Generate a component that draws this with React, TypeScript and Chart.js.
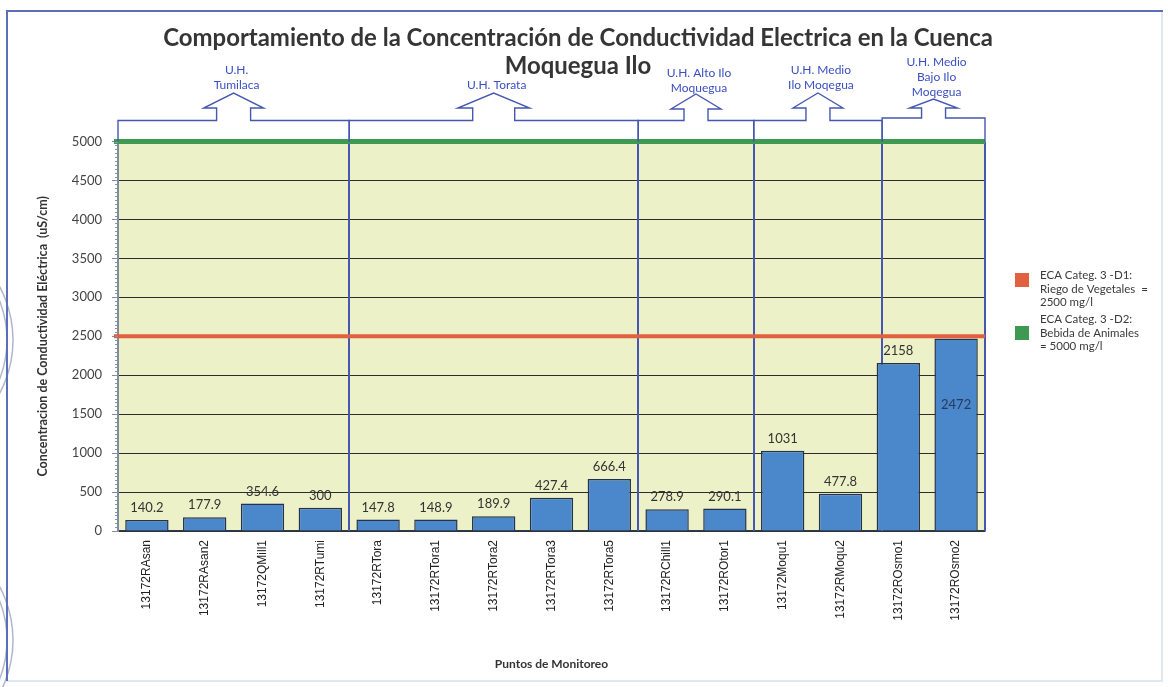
import React, { useEffect, useRef } from 'react';
import { Chart, registerables } from 'chart.js';

Chart.register(...registerables);

// ---------------- data ----------------
const categories = [
  '13172RAsan', '13172RAsan2', '13172QMill1', '13172RTumi', '13172RTora',
  '13172RTora1', '13172RTora2', '13172RTora3', '13172RTora5', '13172RChill1',
  '13172ROtor1', '13172Moqu1', '13172RMoqu2', '13172ROsmo1', '13172ROsmo2',
];
const conductivity = [140.2, 177.9, 354.6, 300, 147.8, 148.9, 189.9, 427.4, 666.4, 278.9, 290.1, 1031, 477.8, 2158, 2472];
const conductivityLabels = ['140.2', '177.9', '354.6', '300', '147.8', '148.9', '189.9', '427.4', '666.4', '278.9', '290.1', '1031', '477.8', '2158', '2472'];

const yMin = 0;
const yMax = 5000;
const yStep = 500;

const ecaValues = [2500, 5000];
const ecaLegend = [
  ['ECA Categ. 3 -D1:', 'Riego de Vegetales  =', '2500 mg/l'],
  ['ECA Categ. 3 -D2:', 'Bebida de Animales', '= 5000 mg/l'],
];

const titleLines = [
  'Comportamiento de la Concentración de Conductividad Electrica en la Cuenca',
  'Moquegua Ilo',
];
const xTitle = 'Puntos de Monitoreo';
const yTitle = 'Concentracion de Conductividad Eléctrica  (uS/cm)';

const groupLabels = [
  ['U.H.', 'Tumilaca'],
  ['U.H. Torata'],
  ['U.H. Alto Ilo', 'Moquegua'],
  ['U.H. Medio', 'Ilo Moqegua'],
  ['U.H. Medio', 'Bajo Ilo', 'Moqegua'],
];
// group boundaries, in category-index units
const groupBounds = [-0.5, 3.5, 8.5, 10.5, 12.72, 14.5];

// ---------------- styles ----------------
const W = 1168;
const H = 687;
const ecaColors = ['#e0603f', '#3e9a52'];
const ecaWidths = [4, 5];
const boxColor = '#4657b0';
const labelBlue = '#3a4fc2';
const groupStyle = [
  { top: 120.5, tip: 93, shoulder: 108, stem: 17, head: 30, lastLine: 85 },
  { top: 120.5, tip: 93, shoulder: 108, stem: 21, head: 36, lastLine: 85 },
  { top: 120.5, tip: 94, shoulder: 109, stem: 12, head: 25, lastLine: 88 },
  { top: 120.5, tip: 93, shoulder: 108, stem: 12, head: 25, lastLine: 85 },
  { top: 118, tip: 99, shoulder: 108, stem: 12, head: 24, lastLine: 92 },
];
const legendSquareY = [273, 326];
const legendTextY = [275, 319];

const decorPlugin = {
  id: 'decor',
  beforeDraw(chart: any) {
    const { ctx, chartArea: a } = chart;
    ctx.save();
    ctx.fillStyle = '#ffffff';
    ctx.fillRect(0, 0, W, H);
    ctx.fillStyle = '#edf1c7';
    ctx.fillRect(a.left, a.top, a.right - a.left, a.bottom - a.top);
    ctx.restore();
  },
  beforeDatasetsDraw(chart: any) {
    const { ctx, chartArea: a } = chart;
    const xs = chart.scales.x;
    ctx.save();
    ctx.strokeStyle = boxColor;
    ctx.lineWidth = 2;
    for (let i = 1; i < groupBounds.length; i++) {
      const px = Math.round(xs.getPixelForValue(groupBounds[i]));
      ctx.beginPath();
      ctx.moveTo(px, a.top);
      ctx.lineTo(px, a.bottom);
      ctx.stroke();
    }
    ctx.restore();
  },
  afterDatasetsDraw(chart: any) {
    const { ctx, chartArea: a } = chart;
    const ys = chart.scales.y;
    ctx.save();
    // ECA threshold lines
    ecaValues.forEach((v, i) => {
      const py = ys.getPixelForValue(v);
      ctx.strokeStyle = ecaColors[i];
      ctx.lineWidth = ecaWidths[i];
      ctx.beginPath();
      ctx.moveTo(a.left - 4, py);
      ctx.lineTo(a.right, py);
      ctx.stroke();
    });
    // value labels
    const redY = ys.getPixelForValue(ecaValues[0]);
    const meta = chart.getDatasetMeta(0);
    ctx.font = '13px Lato';
    ctx.textAlign = 'center';
    ctx.textBaseline = 'middle';
    meta.data.forEach((bar: any, i: number) => {
      let y = bar.y - 12;
      let color = '#333333';
      if (Math.abs(y - redY) < 12) {
        y = bar.y + 66;
        color = '#2a3a5e';
      }
      ctx.fillStyle = color;
      ctx.fillText(conductivityLabels[i], bar.x, y);
    });
    ctx.restore();
  },
  afterDraw(chart: any) {
    const { ctx, chartArea: a } = chart;
    const xs = chart.scales.x;
    const ys = chart.scales.y;
    ctx.save();

    // faint seal marks at the left edge
    ctx.strokeStyle = 'rgba(80,90,155,0.45)';
    ctx.lineWidth = 1.5;
    [340, 640].forEach((cy) => {
      [113, 107].forEach((r) => {
        ctx.beginPath();
        ctx.arc(-100, cy, r, -Math.PI / 2, Math.PI / 2);
        ctx.stroke();
      });
    });

    // frame
    ctx.strokeStyle = '#dfe7f1';
    ctx.lineWidth = 2;
    ctx.beginPath();
    ctx.moveTo(7, 681);
    ctx.lineTo(1162, 681);
    ctx.lineTo(1162, 11);
    ctx.stroke();
    ctx.strokeStyle = '#5b6fb6';
    ctx.beginPath();
    ctx.moveTo(7, 681);
    ctx.lineTo(7, 11);
    ctx.lineTo(1163, 11);
    ctx.stroke();

    // minor ticks on y axis
    ctx.strokeStyle = '#8592a8';
    ctx.lineWidth = 1;
    for (let v = yMin; v <= yMax; v += yStep / 10) {
      const py = Math.round(ys.getPixelForValue(v)) + 0.5;
      ctx.beginPath();
      ctx.moveTo(a.left - 3, py);
      ctx.lineTo(a.left, py);
      ctx.stroke();
    }

    // title (fitted to the reference width)
    ctx.fillStyle = '#353535';
    ctx.textAlign = 'center';
    ctx.textBaseline = 'alphabetic';
    ctx.font = 'bold 24px Lato';
    const w0 = ctx.measureText(titleLines[0]).width;
    const fs = (24 * 830) / w0;
    ctx.font = `bold ${fs.toFixed(2)}px Lato`;
    ctx.fillText(titleLines[0], 578, 46);
    ctx.fillText(titleLines[1], 578, 74);

    // group boxes with arrows
    ctx.strokeStyle = boxColor;
    ctx.lineWidth = 1.4;
    ctx.lineJoin = 'miter';
    for (let g = 0; g < groupLabels.length; g++) {
      const st = groupStyle[g];
      const l = xs.getPixelForValue(groupBounds[g]);
      const r = xs.getPixelForValue(groupBounds[g + 1]);
      const cx = (l + r) / 2;
      ctx.beginPath();
      ctx.moveTo(l, a.top);
      ctx.lineTo(l, st.top);
      ctx.lineTo(cx - st.stem, st.top);
      ctx.lineTo(cx - st.stem, st.shoulder);
      ctx.lineTo(cx - st.head, st.shoulder);
      ctx.lineTo(cx, st.tip);
      ctx.lineTo(cx + st.head, st.shoulder);
      ctx.lineTo(cx + st.stem, st.shoulder);
      ctx.lineTo(cx + st.stem, st.top);
      ctx.lineTo(r, st.top);
      ctx.lineTo(r, a.top);
      ctx.stroke();

      ctx.fillStyle = labelBlue;
      ctx.font = '12px Lato';
      ctx.textAlign = 'center';
      ctx.textBaseline = 'middle';
      const lines = groupLabels[g];
      lines.forEach((t, k) => {
        const y = st.lastLine - (lines.length - 1 - k) * 15;
        ctx.fillText(t, cx + 3, y);
      });
    }

    // legend
    ctx.textAlign = 'left';
    ctx.textBaseline = 'middle';
    ctx.font = '11.5px Lato';
    ecaLegend.forEach((lines, i) => {
      ctx.fillStyle = ecaColors[i];
      ctx.fillRect(1015, legendSquareY[i], 14, 14);
      ctx.fillStyle = '#3a3a3a';
      lines.forEach((t, k) => {
        ctx.fillText(t, 1040, legendTextY[i] + k * 13.8);
      });
    });

    ctx.restore();
  },
};

export default function App() {
  const canvasRef = useRef<HTMLCanvasElement | null>(null);

  useEffect(() => {
    document.body.style.margin = '0';
    const canvas = canvasRef.current;
    if (!canvas) return;
    const chart = new Chart(canvas, {
      type: 'bar',
      data: {
        labels: categories,
        datasets: [
          {
            label: 'Conductividad Eléctrica',
            data: conductivity,
            backgroundColor: '#4a87cb',
            borderColor: '#25324a',
            borderWidth: 1.5,
            barPercentage: 0.75,
            categoryPercentage: 1.0,
          },
        ],
      },
      options: {
        responsive: false,
        animation: false,
        devicePixelRatio: 1,
        layout: { padding: { top: 141.5, right: 183, left: 31, bottom: 12 } },
        plugins: {
          legend: { display: false },
          title: { display: false },
          tooltip: { enabled: false },
        },
        scales: {
          x: {
            grid: { display: false, drawTicks: false },
            border: { display: true, color: '#2e3a4e', width: 1.5 },
            ticks: {
              autoSkip: false,
              maxRotation: 90,
              minRotation: 90,
              padding: 9,
              color: '#222222',
              font: { family: 'Liberation Sans', size: 12 },
            },
            title: {
              display: true,
              text: xTitle,
              color: '#333333',
              font: { family: 'Lato', weight: 'bold', size: 12 },
              padding: { top: 4, bottom: 4 },
            },
            afterFit: (s: any) => {
              s.height = 144;
            },
          },
          y: {
            min: yMin,
            max: yMax,
            ticks: {
              stepSize: yStep,
              padding: 10,
              color: '#444444',
              font: { family: 'Lato', size: 13 },
              callback: (v: any) => String(v),
            },
            grid: {
              color: '#2d2d2d',
              lineWidth: 1,
              drawTicks: true,
              tickLength: 6,
              tickColor: '#7d8aa2',
            },
            border: { display: true, color: '#7d8aa2', width: 2 },
            title: {
              display: true,
              text: yTitle,
              color: '#333333',
              font: { family: 'Lato', weight: 'bold', size: 12.5 },
              padding: { top: 4, bottom: 4 },
            },
            afterFit: (s: any) => {
              s.width = 87;
            },
          },
        },
      },
      plugins: [decorPlugin],
    } as any);
    return () => chart.destroy();
  }, []);

  return (
    <div style={{ width: W, height: H, position: 'relative' }}>
      <canvas ref={canvasRef} width={W} height={H} style={{ display: 'block' }} />
    </div>
  );
}
